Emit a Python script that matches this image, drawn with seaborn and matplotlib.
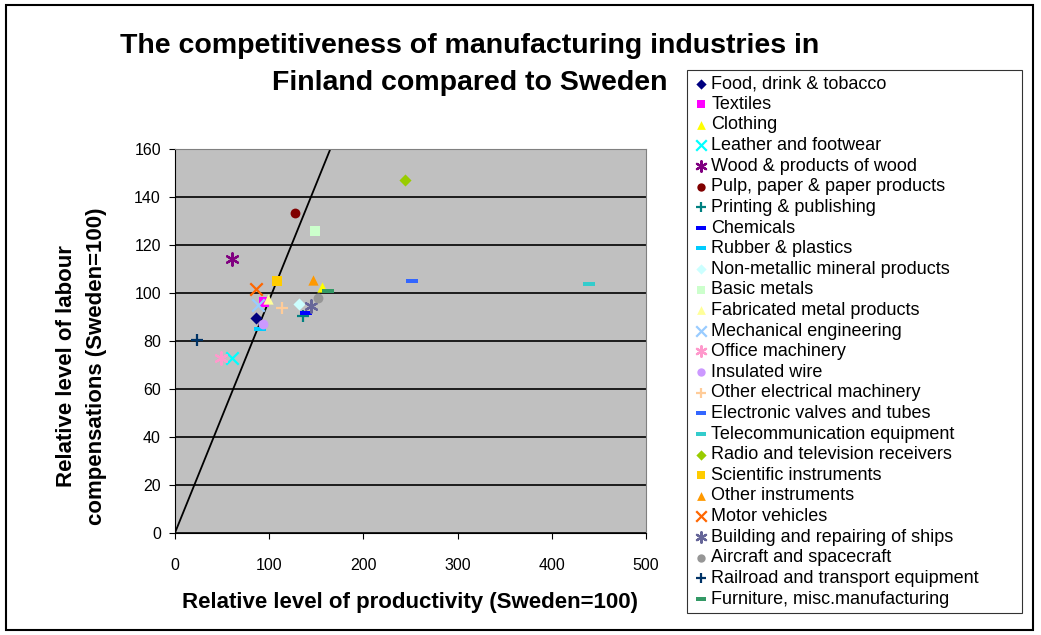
import matplotlib
matplotlib.use("Agg")
import matplotlib.pyplot as plt
import matplotlib.patches as mpatches
import seaborn as sns
import pandas as pd

# Industries, productivity (x) and labour compensation (y), Sweden = 100
industries = [
    "Food, drink & tobacco", "Textiles", "Clothing", "Leather and footwear",
    "Wood & products of wood", "Pulp, paper & paper products",
    "Printing & publishing", "Chemicals", "Rubber & plastics",
    "Non-metallic mineral products", "Basic metals", "Fabricated metal products",
    "Mechanical engineering", "Office machinery", "Insulated wire",
    "Other electrical machinery", "Electronic valves and tubes",
    "Telecommunication equipment", "Radio and television receivers",
    "Scientific instruments", "Other instruments", "Motor vehicles",
    "Building and repairing of ships", "Aircraft and spacecraft",
    "Railroad and transport equipment", "Furniture, misc.manufacturing",
]
productivity = [86, 95, 156, 61, 61, 127, 136, 139, 90, 132, 149, 99, 88, 49,
                94, 114, 252, 440, 244, 108, 147, 86, 145, 152, 24, 163]
compensation = [89.7, 96.4, 102.6, 72.9, 114.2, 133.5, 90.5, 91.8, 85, 95.3,
                125.8, 97.6, 95, 72.9, 87.1, 93.9, 105.1, 103.6, 147, 105,
                105.4, 101.7, 94.6, 97.8, 80.3, 100.7]
colors = ["#000080", "#FF00FF", "#FFFF00", "#00FFFF", "#800080", "#800000",
          "#008080", "#0000FF", "#00CCFF", "#CCFFFF", "#CCFFCC", "#FFFF99",
          "#99CCFF", "#FF99CC", "#CC99FF", "#FFCC99", "#3366FF", "#33CCCC",
          "#99CC00", "#FFCC00", "#FF9900", "#FF6600", "#666699", "#969696",
          "#003366", "#339966"]
marker_kind = ["D", "s", "^", "x", "*", "o", "+", "-", "-", "D", "s", "^", "x",
               "*", "o", "+", "-", "-", "D", "s", "^", "x", "*", "o", "+", "-"]

# parity line
line_x = [0, 165]
line_y = [0, 160]

df = pd.DataFrame({"industry": industries, "x": productivity, "y": compensation})

plt.rcParams["font.family"] = ["Liberation Sans", "DejaVu Sans"]

dash = [(-1, -0.35), (1, -0.35), (1, 0.35), (-1, 0.35), (-1, -0.35)]
asterisk = (6, 2, 0)

fig = plt.figure(figsize=(10.41, 6.35), dpi=100)
ax = fig.add_axes([0.168, 0.1606, 0.4525, 0.6047])
ax.set_facecolor("#C0C0C0")

ax.plot(line_x, line_y, color="black", lw=1.3, zorder=2)

for i, row in df.iterrows():
    k = marker_kind[i]
    c = colors[i]
    if k == "-":
        sns.scatterplot(x=[row.x], y=[row.y], marker=dash, color=c, s=65,
                        linewidth=0, label=row.industry, ax=ax, zorder=3)
    elif k in ("x", "+", "*"):
        m = asterisk if k == "*" else k
        sns.scatterplot(x=[row.x], y=[row.y], marker=m, color=c, s=80,
                        linewidth=1.6, label=row.industry, ax=ax, zorder=3)
    else:
        sz = {"D": 38, "s": 45, "^": 55, "o": 50}[k]
        sns.scatterplot(x=[row.x], y=[row.y], marker=k, color=c, s=sz,
                        linewidth=0, label=row.industry, ax=ax, zorder=3)

ax.set_xlim(0, 500)
ax.set_ylim(0, 160)
ax.set_xticks(range(0, 501, 100))
ax.set_yticks(range(0, 161, 20))
ax.yaxis.grid(True, color="black", lw=1.2)
ax.xaxis.grid(False)
ax.set_axisbelow(True)
ax.tick_params(labelsize=11.5, length=4, direction="out", pad=14)
ax.tick_params(axis="y", pad=6)
for s in ["left", "bottom"]:
    ax.spines[s].set_color("black")
for s in ["top", "right"]:
    ax.spines[s].set_color("#808080")

ax.set_xlabel("Relative level of productivity (Sweden=100)", fontsize=16,
              fontweight="bold")
ax.xaxis.label.set_va("center")
ax.xaxis.set_label_coords(0.5, -0.182)
ax.set_ylabel("Relative level of labour\ncompensations (Sweden=100)",
              fontsize=16, fontweight="bold", linespacing=1.55)
ax.yaxis.label.set_va("center")
ax.yaxis.set_label_coords(-0.199, 0.435)

fig.text(0.4515, 1 - 46 / 635, "The competitiveness of manufacturing industries in",
         ha="center", va="center", fontsize=20.5, fontweight="bold")
fig.text(0.4515, 1 - 83 / 635, "Finland compared to Sweden",
         ha="center", va="center", fontsize=20.5, fontweight="bold")

leg = ax.legend(loc="upper left", bbox_to_anchor=(0.66, 0.027, 0.322, 0.863),
                bbox_transform=fig.transFigure, mode="expand", fontsize=13,
                frameon=True, fancybox=False, edgecolor="black",
                borderaxespad=0, labelspacing=0.2, handletextpad=0.15,
                handlelength=0.9, borderpad=0.3, scatterpoints=1,
                markerscale=0.85)
leg.get_frame().set_linewidth(0.8)

fig.patches.append(mpatches.Rectangle((6 / 1041, 5 / 635), 1027 / 1041, 625 / 635,
                                      transform=fig.transFigure, fill=False,
                                      edgecolor="black", lw=1.5))

fig.savefig("out.png", dpi=100)
